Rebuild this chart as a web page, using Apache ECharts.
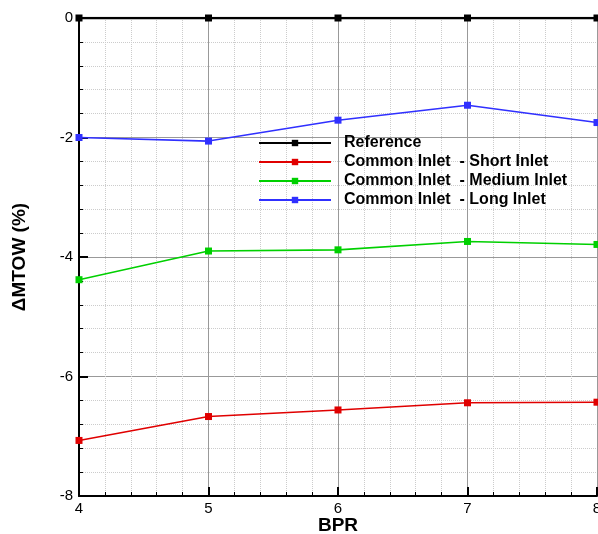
<!DOCTYPE html>
<html><head><meta charset="utf-8">
<script src="https://cdn.jsdelivr.net/npm/echarts@6/dist/echarts.min.js"></script>
<style>html,body{margin:0;padding:0;background:#fff;overflow:hidden}#c{position:fixed;left:0;top:0;width:598px;height:534px}</style>
</head><body><div id="c"></div>
<script>
const bpr = [4, 5, 6, 7, 8];
const reference = [0, 0, 0, 0, 0];
const shortInlet = [-7.07, -6.67, -6.56, -6.44, -6.43];
const mediumInlet = [-4.38, -3.90, -3.88, -3.74, -3.79];
const longInlet = [-2.00, -2.06, -1.71, -1.46, -1.75];
const names = ['Reference', 'Common Inlet  - Short Inlet', 'Common Inlet  - Medium Inlet', 'Common Inlet  - Long Inlet'];
const colors = ['#000000', '#e00000', '#00d000', '#3030ff'];
const values = [reference, shortInlet, mediumInlet, longInlet];

const font = 'Liberation Sans, Arial, Helvetica, sans-serif';
const chart = echarts.init(document.getElementById('c'), null, { width: 598, height: 534 });
chart.setOption({
  animation: false,
  grid: { left: 79, right: 1, top: 18, bottom: 38, containLabel: false, outerBoundsMode: 'none' },
  legend: {
    orient: 'vertical', left: 253, top: 130, itemGap: 3, itemWidth: 72, itemHeight: 8,
    data: names,
    textStyle: { fontFamily: font, fontWeight: 'bold', fontSize: 16, lineHeight: 16, color: '#000', padding: [0, 0, 0, 8] }
  },
  xAxis: {
    type: 'value', min: 4, max: 8, interval: 1,
    name: 'BPR', nameLocation: 'middle', nameGap: 20, nameMoveOverlap: false,
    nameTextStyle: { fontFamily: font, fontWeight: 'bold', fontSize: 19, color: '#000' },
    axisLine: { show: true, onZero: false, lineStyle: { color: '#000', width: 2 } },
    axisTick: { show: true, inside: true, length: 9, lineStyle: { color: '#000', width: 2 } },
    minorTick: { show: true, splitNumber: 5, length: 4, lineStyle: { color: '#000', width: 1 } },
    axisLabel: { fontFamily: font, fontSize: 15, color: '#000', margin: 5 },
    splitLine: { show: true, lineStyle: { color: '#999', width: 1 } },
    minorSplitLine: { show: true, lineStyle: { color: '#ccc', type: 'dotted', width: 1 } }
  },
  yAxis: {
    type: 'value', min: -8, max: 0, interval: 2,
    name: 'ΔMTOW (%)', nameLocation: 'middle', nameGap: 50, nameRotate: 90, nameMoveOverlap: false,
    nameTextStyle: { fontFamily: font, fontWeight: 'bold', fontSize: 19, color: '#000' },
    axisLine: { show: true, onZero: false, lineStyle: { color: '#000', width: 2 } },
    axisTick: { show: true, inside: true, length: 9, lineStyle: { color: '#000', width: 2 } },
    minorTick: { show: true, splitNumber: 5, length: 4, lineStyle: { color: '#000', width: 1 } },
    axisLabel: { fontFamily: font, fontSize: 15, color: '#000', margin: 6 },
    splitLine: { show: true, lineStyle: { color: '#999', width: 1 } },
    minorSplitLine: { show: true, lineStyle: { color: '#ccc', type: 'dotted', width: 1 } }
  },
  series: values.map((v, i) => ({
    name: names[i], type: 'line',
    data: bpr.map((x, j) => [x, v[j]]),
    symbol: 'rect', symbolSize: 7,
    lineStyle: { color: colors[i], width: i === 0 ? 2.5 : 1.6 },
    itemStyle: { color: colors[i] },
    clip: true
  }))
});
</script></body></html>
